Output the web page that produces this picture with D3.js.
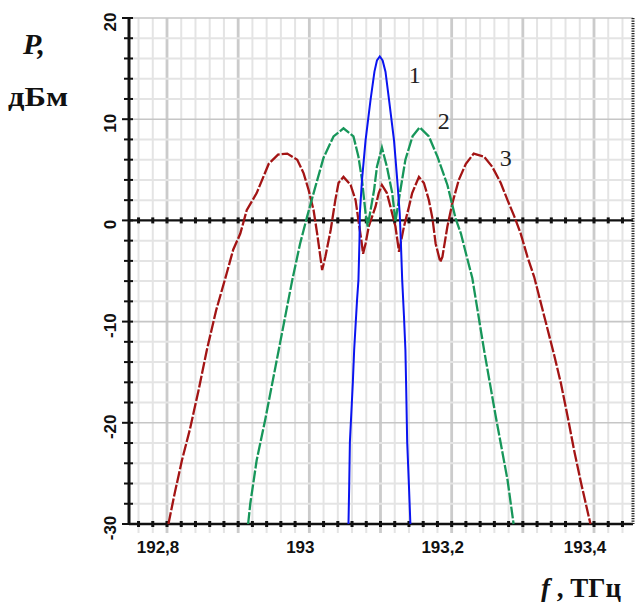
<!DOCTYPE html>
<html>
<head>
<meta charset="utf-8">
<script src="https://cdn.jsdelivr.net/npm/d3@7"></script>
<style>
  body { margin: 0; background: #fff; }
  svg { display: block; }
  .tick-label { font-family: "Liberation Sans", Arial, sans-serif; font-weight: bold; font-size: 17px; fill: #111; }
  .title { font-family: "Liberation Serif", "Times New Roman", serif; font-weight: bold; fill: #111; }
  .curve-name { font-family: "Liberation Serif", "Times New Roman", serif; font-size: 24px; fill: #222; }
</style>
</head>
<body>
<svg id="chart" width="635" height="602"></svg>
<script>
// spectra: [frequency, THz ; power, dBm]
var curve1 = [[193.055,-30],[193.056,-26.3],[193.057,-21.9],[193.061,-16.2],[193.063,-12.8],[193.067,-7.9],
  [193.069,-5.9],[193.0705,-1.9],[193.071,0.7],[193.074,4.0],[193.079,7.9],[193.086,11.9],[193.0915,14.7],
  [193.095,15.8],[193.099,16.2],[193.103,15.8],[193.107,14.7],[193.112,11.9],[193.119,7.9],[193.1235,4.0],
  [193.127,0.7],[193.1285,-1.9],[193.1305,-5.9],[193.133,-9.5],[193.135,-12.8],[193.136,-16.2],
  [193.1375,-21.9],[193.14,-26.3],[193.142,-30]];

var curve2 = [[192.914,-30],[192.917,-28],[192.926,-23.7],[192.938,-19.7],[192.957,-12.8],[192.976,-5.9],
  [192.987,-2.3],[192.997,0.4],[193.006,2.7],[193.020,6.2],[193.034,8.3],[193.048,9.1],[193.062,8.3],
  [193.069,6.3],[193.074,4.0],[193.079,0.7],[193.082,-0.6],[193.091,3.0],[193.095,5.3],[193.102,7.2],
  [193.109,5.3],[193.1165,2.7],[193.121,-0.1],[193.128,3.0],[193.135,6.0],[193.145,8.3],[193.155,9.2],
  [193.168,8.3],[193.180,6.3],[193.194,3.5],[193.2055,0.2],[193.213,-1.3],[193.220,-3.25],[193.229,-5.7],
  [193.2455,-12.8],[193.262,-19.4],[193.2785,-25.65],[193.287,-30]];

var curve3 = [[192.802,-30],[192.811,-26.9],[192.821,-23.7],[192.832,-20.7],[192.844,-16.9],[192.856,-12.8],
  [192.869,-8.9],[192.884,-5.2],[192.893,-2.9],[192.903,-1.3],[192.912,1.0],[192.926,2.7],[192.943,5.6],
  [192.956,6.5],[192.969,6.6],[192.983,6.0],[192.992,4.65],[192.999,3.0],[193.006,1.0],[193.011,-1.3],
  [193.0155,-3.6],[193.018,-4.9],[193.0225,-3.6],[193.030,-0.95],[193.0365,2.0],[193.041,3.7],[193.048,4.3],
  [193.058,3.5],[193.065,2.0],[193.069,0.0],[193.073,-1.9],[193.0755,-3.3],[193.079,-2.3],[193.0835,-0.6],
  [193.093,1.35],[193.0975,2.7],[193.102,3.5],[193.109,2.7],[193.114,1.35],[193.121,-0.6],[193.126,-3.1],
  [193.133,-0.6],[193.140,1.35],[193.1445,2.7],[193.154,4.3],[193.161,3.7],[193.168,2.0],[193.173,0.2],
  [193.1775,-2.3],[193.184,-4.1],[193.187,-3.6],[193.194,-0.6],[193.201,1.7],[193.210,4.0],[193.220,5.6],
  [193.231,6.6],[193.2455,6.3],[193.257,5.3],[193.269,3.7],[193.2785,2.0],[193.288,0.4],[193.297,-1.3],
  [193.3065,-3.6],[193.316,-5.6],[193.344,-13.3],[193.3535,-16.1],[193.363,-19.4],[193.372,-22.7],
  [193.382,-26.0],[193.395,-30]];

var xTickValues = [192.8, 193, 193.2, 193.4];
var xTickLabels = ["192,8", "193", "193,2", "193,4"];
var yTickValues = [20, 10, 0, -10, -20, -30];
var yTickLabels = ["20", "10", "0", "-10", "-20", "-30"];
var curveNames = ["1", "2", "3"];
var curveColors = ["#0a14f0", "#17965a", "#a31414"];
var namePos = [[193.148, 13.6], [193.189, 9.0], [193.276, 5.4]];   // where the curve numbers sit

var svg = d3.select("#chart");

var x = d3.scaleLinear().domain([192.8, 193.4]).range([167, 594]);
var y = d3.scaleLinear().domain([-30, 20]).range([524, 18]);
var left = 129, right = 633;

// grid
var xMinor = d3.range(-2, 33).map(i => +(192.8 + i * 0.02).toFixed(2));
var yMinor = d3.range(-30, 21, 2);

svg.selectAll("line.vgrid")
   .data(xMinor)
   .enter()
   .append("line")
   .attr("x1", d => x(d)).attr("x2", d => x(d))
   .attr("y1", y(20)).attr("y2", y(-30) + 9)
   .attr("stroke", (d, i) => (i - 2) % 5 === 0 ? "#cbcbcb" : "#e4e4e4")
   .attr("stroke-width", (d, i) => (i - 2) % 5 === 0 ? 2.8 : 2);

svg.selectAll("line.hgrid")
   .data(yMinor.filter(d => d !== 0 && d !== -30))
   .enter()
   .append("line")
   .attr("x1", left).attr("x2", right)
   .attr("y1", d => y(d)).attr("y2", d => y(d))
   .attr("stroke", d => d % 10 === 0 ? "#c6c6c6" : "#e4e4e4")
   .attr("stroke-width", d => d % 10 === 0 ? 1.6 : 2);

// black lines at 0 and -30 with small ticks
[0, -30].forEach(function(v) {
    svg.append("line")
       .attr("x1", left).attr("x2", right)
       .attr("y1", y(v)).attr("y2", y(v))
       .attr("stroke", "#111").attr("stroke-width", 2.4);
    svg.selectAll("rect.t" + Math.abs(v))
       .data(xMinor)
       .enter()
       .append("rect")
       .attr("x", d => x(d) - 1.5)
       .attr("y", y(v) - 3)
       .attr("width", 3).attr("height", 6)
       .attr("fill", "#111");
});

// right border
svg.append("line")
   .attr("x1", right).attr("x2", right)
   .attr("y1", y(20)).attr("y2", y(-30))
   .attr("stroke", "#222").attr("stroke-width", 3)
   .attr("stroke-dasharray", "1.2,1.3");

// y axis
svg.append("line")
   .attr("x1", left).attr("x2", left)
   .attr("y1", y(20) - 1).attr("y2", y(-30) + 1)
   .attr("stroke", "#111").attr("stroke-width", 3);

svg.selectAll("line.ytick")
   .data(yMinor)
   .enter()
   .append("line")
   .attr("x1", d => d % 10 === 0 ? left - 7 : left - 5)
   .attr("x2", left + 4)
   .attr("y1", d => y(d)).attr("y2", d => y(d))
   .attr("stroke", "#111").attr("stroke-width", 2);

svg.selectAll("text.ylab")
   .data(yTickValues)
   .enter()
   .append("text")
   .attr("class", "tick-label")
   .attr("text-anchor", "middle")
   .attr("transform", d => "translate(116," + (y(d) + 4) + ") rotate(-90)")
   .text((d, i) => yTickLabels[i]);

svg.selectAll("text.xlab")
   .data(xTickValues)
   .enter()
   .append("text")
   .attr("class", "tick-label")
   .attr("text-anchor", "middle")
   .attr("x", d => x(d) - 9)
   .attr("y", 553)
   .text((d, i) => xTickLabels[i]);

// curves
var line = d3.line()
             .x(d => x(d[0]))
             .y(d => y(d[1]));

[curve3, curve2].forEach(function(c, i) {
    svg.append("path")
       .datum(c)
       .attr("d", line)
       .attr("fill", "none")
       .attr("stroke", curveColors[2 - i])
       .attr("stroke-width", 2.3)
       .attr("stroke-dasharray", "12,2");
});

svg.append("path")
   .datum(curve1)
   .attr("d", line)
   .attr("fill", "none")
   .attr("stroke", curveColors[0])
   .attr("stroke-width", 2);

svg.selectAll("text.cname")
   .data(curveNames)
   .enter()
   .append("text")
   .attr("class", "curve-name")
   .attr("text-anchor", "middle")
   .attr("x", (d, i) => x(namePos[i][0]))
   .attr("y", (d, i) => y(namePos[i][1]))
   .text(d => d);

// axis titles
svg.append("text")
   .attr("class", "title")
   .attr("x", 23).attr("y", 54)
   .attr("font-size", 30)
   .attr("font-style", "italic")
   .text("P,");

svg.append("text")
   .attr("class", "title")
   .attr("x", 8).attr("y", 106)
   .attr("font-size", 27)
   .attr("textLength", 60)
   .attr("lengthAdjust", "spacingAndGlyphs")
   .text("дБм");

var xt = svg.append("text")
   .attr("class", "title")
   .attr("x", 541).attr("y", 597)
   .attr("font-size", 27);
xt.append("tspan").attr("font-style", "italic").text("f");
xt.append("tspan").text(" , ТГц");
</script>
</body>
</html>
